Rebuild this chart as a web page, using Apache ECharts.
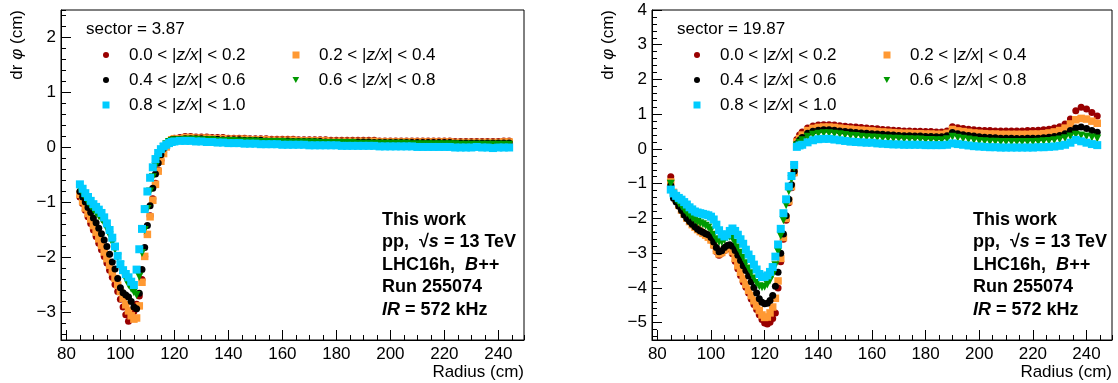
<!DOCTYPE html>
<html>
<head>
<meta charset="utf-8">
<script src="https://cdn.jsdelivr.net/npm/echarts@6/dist/echarts.min.js"></script>
<style>
  html, body { margin: 0; padding: 0; background: #fff; }
  #chart { width: 1118px; height: 383px; }
</style>
</head>
<body>
<div id="chart"></div>
<script>
const FONT = "'Liberation Sans', Arial, Helvetica, sans-serif";

// Radius bins (cm)
const radiusLeft = [85,86,87,88,89,90,91,92,93,94,95,96,97,98,99,100,101,102,103,104,105,106,107,108,109,110,111,112,113,114,115,116,117,118,119,120,
  122,124,126,128,130,132,134,136,138,140,142,144,146,148,150,152,154,156,158,160,162,164,166,168,170,172,174,176,178,180,182,184,186,188,190,192,194,196,198,200,202,204,206,208,210,212,214,216,218,220,222,224,226,228,230,232,234,236,238,240,242,244];
const radiusRight = [85,86,87,88,89,90,91,92,93,94,95,96,97,98,99,100,101,102,103,104,105,106,107,108,109,110,111,112,113,114,115,116,117,118,119,120,121,122,123,124,125,126,127,128,129,130,131,132,133,
  134,136,138,140,142,144,146,148,150,152,154,156,158,160,162,164,166,168,170,172,174,176,178,180,182,184,186,188,190,192,194,196,198,200,202,204,206,208,210,212,214,216,218,220,222,224,226,228,230,232,234,236,238,240,242,244];

// |z/x| slices
const sliceNames = ['0.0 < |z/x| < 0.2', '0.2 < |z/x| < 0.4', '0.4 < |z/x| < 0.6', '0.6 < |z/x| < 0.8', '0.8 < |z/x| < 1.0'];
const sectorLabels = ['sector = 3.87', 'sector = 19.87'];

// dr·phi (cm), sector 3.87
const left00 = [-0.90,-1.02,-1.14,-1.26,-1.38,-1.50,-1.62,-1.74,-1.86,-1.98,-2.10,-2.23,-2.36,-2.49,-2.62,-2.76,-2.90,-3.04,-3.16,-3.10,-2.98,-2.85,-2.70,-2.40,-1.98,-1.58,-1.24,-0.93,-0.65,-0.41,-0.23,-0.09,0.03,0.11,0.15,0.17,
  0.18,0.20,0.20,0.19,0.19,0.19,0.18,0.18,0.18,0.17,0.17,0.17,0.17,0.16,0.16,0.16,0.16,0.15,0.15,0.15,0.15,0.15,0.14,0.14,0.14,0.14,0.14,0.14,0.13,0.13,0.13,0.13,0.13,0.13,0.13,0.13,0.13,0.12,0.12,0.12,0.12,0.12,0.12,0.12,0.12,0.12,0.12,0.12,0.12,0.12,0.12,0.11,0.11,0.11,0.11,0.11,0.11,0.11,0.11,0.11,0.12,0.12];
const left02 = [-0.85,-0.98,-1.10,-1.20,-1.30,-1.42,-1.54,-1.66,-1.78,-1.90,-2.02,-2.14,-2.26,-2.38,-2.50,-2.62,-2.74,-2.86,-2.97,-3.06,-3.12,-3.10,-2.88,-2.45,-1.98,-1.58,-1.26,-0.96,-0.67,-0.43,-0.25,-0.11,0.01,0.09,0.14,0.16,
  0.16,0.18,0.18,0.17,0.17,0.17,0.16,0.16,0.16,0.15,0.15,0.15,0.15,0.14,0.14,0.14,0.14,0.13,0.13,0.13,0.13,0.13,0.12,0.12,0.12,0.12,0.12,0.12,0.11,0.11,0.11,0.11,0.11,0.11,0.11,0.11,0.11,0.10,0.10,0.10,0.10,0.10,0.10,0.10,0.10,0.10,0.10,0.10,0.10,0.10,0.10,0.09,0.09,0.09,0.09,0.09,0.09,0.09,0.09,0.09,0.10,0.10];
const left04 = [-0.80,-0.90,-0.99,-1.09,-1.18,-1.28,-1.37,-1.47,-1.57,-1.68,-1.80,-1.94,-2.08,-2.21,-2.38,-2.55,-2.64,-2.68,-2.72,-2.80,-2.90,-2.93,-2.65,-2.22,-1.82,-1.42,-1.06,-0.74,-0.48,-0.28,-0.13,-0.02,0.06,0.11,0.14,0.15,
  0.15,0.16,0.16,0.16,0.16,0.15,0.15,0.15,0.14,0.14,0.14,0.14,0.13,0.13,0.13,0.13,0.12,0.12,0.12,0.12,0.12,0.11,0.11,0.11,0.11,0.11,0.11,0.10,0.10,0.10,0.10,0.10,0.10,0.10,0.10,0.10,0.09,0.09,0.09,0.09,0.09,0.09,0.09,0.09,0.09,0.09,0.09,0.09,0.09,0.09,0.09,0.08,0.08,0.08,0.08,0.08,0.08,0.08,0.08,0.08,0.08,0.08];
const left06 = [-0.75,-0.84,-0.92,-1.00,-1.07,-1.13,-1.19,-1.25,-1.31,-1.38,-1.48,-1.60,-1.73,-1.86,-2.00,-2.14,-2.28,-2.40,-2.50,-2.57,-2.63,-2.68,-2.35,-1.92,-1.50,-1.12,-0.80,-0.54,-0.34,-0.18,-0.07,0.01,0.06,0.10,0.12,0.13,
  0.13,0.14,0.14,0.14,0.13,0.13,0.13,0.12,0.12,0.12,0.12,0.11,0.11,0.11,0.11,0.10,0.10,0.10,0.10,0.10,0.09,0.09,0.09,0.09,0.09,0.09,0.08,0.08,0.08,0.08,0.08,0.08,0.08,0.07,0.07,0.07,0.07,0.07,0.07,0.07,0.07,0.07,0.07,0.06,0.06,0.06,0.06,0.06,0.06,0.06,0.06,0.06,0.05,0.05,0.05,0.05,0.05,0.05,0.05,0.05,0.05,0.05];
const left08 = [-0.67,-0.75,-0.83,-0.90,-0.97,-1.03,-1.08,-1.13,-1.19,-1.27,-1.38,-1.50,-1.64,-1.80,-1.97,-2.12,-2.23,-2.30,-2.36,-2.44,-2.50,-2.22,-1.85,-1.48,-1.12,-0.80,-0.55,-0.36,-0.21,-0.10,-0.03,0.02,0.05,0.08,0.10,0.11,
  0.12,0.12,0.12,0.11,0.11,0.10,0.10,0.09,0.09,0.08,0.08,0.08,0.07,0.07,0.07,0.06,0.06,0.06,0.06,0.05,0.05,0.05,0.05,0.05,0.04,0.04,0.04,0.04,0.04,0.04,0.03,0.03,0.03,0.03,0.03,0.03,0.03,0.02,0.02,0.02,0.02,0.02,0.02,0.02,0.01,0.01,0.01,0.01,0.01,0.01,0.01,0.00,0.00,0.00,0.00,0.01,0.00,0.00,-0.01,0.00,0.00,0.00];

// dr·phi (cm), sector 19.87
const right00 = [-0.80,-1.28,-1.45,-1.60,-1.73,-1.85,-1.96,-2.06,-2.15,-2.22,-2.29,-2.35,-2.41,-2.46,-2.52,-2.62,-2.78,-2.95,-3.06,-3.00,-2.92,-2.87,-2.88,-3.02,-3.23,-3.45,-3.64,-3.83,-3.98,-4.15,-4.32,-4.48,-4.62,-4.77,-4.91,-5.01,-5.04,-4.99,-4.88,-4.72,-4.00,-3.25,-2.60,-2.05,-1.55,-1.12,-0.70,0.27,0.40,
  0.49,0.60,0.66,0.69,0.70,0.70,0.69,0.67,0.65,0.64,0.63,0.62,0.60,0.59,0.58,0.56,0.55,0.54,0.53,0.52,0.52,0.51,0.51,0.50,0.50,0.49,0.49,0.52,0.64,0.61,0.59,0.57,0.55,0.54,0.53,0.53,0.52,0.52,0.52,0.52,0.52,0.52,0.53,0.53,0.54,0.55,0.57,0.60,0.64,0.72,0.86,1.10,1.20,1.15,1.05,0.95];
const right02 = [-0.95,-1.25,-1.45,-1.62,-1.76,-1.88,-1.99,-2.09,-2.18,-2.25,-2.32,-2.38,-2.43,-2.48,-2.54,-2.62,-2.76,-2.92,-3.02,-2.98,-2.90,-2.84,-2.84,-2.95,-3.15,-3.36,-3.55,-3.74,-3.90,-4.07,-4.22,-4.37,-4.52,-4.65,-4.78,-4.85,-4.84,-4.72,-4.55,-4.30,-3.80,-3.15,-2.55,-2.00,-1.50,-1.08,-0.68,0.20,0.30,
  0.40,0.53,0.59,0.62,0.63,0.63,0.62,0.60,0.58,0.57,0.55,0.54,0.53,0.52,0.50,0.49,0.48,0.47,0.46,0.45,0.45,0.44,0.44,0.43,0.43,0.42,0.42,0.45,0.56,0.52,0.50,0.48,0.46,0.45,0.44,0.43,0.43,0.42,0.42,0.42,0.42,0.42,0.42,0.43,0.43,0.44,0.46,0.49,0.53,0.60,0.72,0.84,0.88,0.86,0.80,0.74];
const right04 = [-1.05,-1.42,-1.53,-1.65,-1.77,-1.90,-2.00,-2.09,-2.17,-2.24,-2.31,-2.36,-2.40,-2.44,-2.47,-2.55,-2.68,-2.84,-2.96,-2.93,-2.84,-2.78,-2.76,-2.80,-2.92,-3.06,-3.21,-3.36,-3.50,-3.66,-3.82,-3.99,-4.15,-4.31,-4.41,-4.46,-4.44,-4.36,-4.22,-3.95,-3.55,-3.00,-2.45,-1.92,-1.45,-1.03,-0.64,0.15,0.25,
  0.33,0.45,0.51,0.54,0.55,0.55,0.54,0.52,0.50,0.49,0.47,0.46,0.45,0.44,0.43,0.42,0.41,0.40,0.39,0.38,0.38,0.37,0.37,0.36,0.36,0.35,0.35,0.38,0.47,0.44,0.41,0.39,0.37,0.35,0.34,0.33,0.32,0.31,0.31,0.31,0.30,0.30,0.31,0.31,0.31,0.32,0.34,0.36,0.39,0.44,0.53,0.60,0.63,0.59,0.53,0.48];
const right06 = [-1.00,-1.35,-1.47,-1.57,-1.66,-1.76,-1.85,-1.92,-1.99,-2.05,-2.10,-2.14,-2.17,-2.21,-2.26,-2.34,-2.47,-2.60,-2.68,-2.68,-2.62,-2.55,-2.53,-2.58,-2.70,-2.84,-2.99,-3.14,-3.29,-3.44,-3.58,-3.73,-3.86,-3.95,-3.98,-3.97,-3.90,-3.79,-3.62,-3.35,-2.95,-2.50,-2.05,-1.62,-1.22,-0.87,-0.54,0.10,0.18,
  0.25,0.35,0.41,0.44,0.45,0.45,0.44,0.42,0.40,0.38,0.37,0.35,0.34,0.33,0.32,0.31,0.30,0.29,0.29,0.28,0.28,0.27,0.27,0.26,0.26,0.25,0.25,0.28,0.35,0.32,0.29,0.27,0.25,0.23,0.22,0.21,0.21,0.20,0.20,0.20,0.20,0.20,0.20,0.20,0.21,0.22,0.23,0.25,0.27,0.31,0.36,0.41,0.39,0.36,0.33,0.30];
const right08 = [-1.17,-1.28,-1.35,-1.41,-1.46,-1.53,-1.60,-1.68,-1.74,-1.80,-1.83,-1.85,-1.87,-1.89,-1.91,-1.95,-2.03,-2.18,-2.34,-2.46,-2.52,-2.46,-2.36,-2.29,-2.36,-2.47,-2.60,-2.73,-2.90,-3.04,-3.17,-3.33,-3.47,-3.60,-3.69,-3.68,-3.64,-3.54,-3.40,-3.10,-2.75,-2.30,-1.85,-1.45,-1.08,-0.78,-0.46,0.06,0.10,
  0.12,0.19,0.25,0.28,0.29,0.29,0.27,0.25,0.23,0.21,0.20,0.19,0.18,0.18,0.16,0.15,0.14,0.13,0.13,0.12,0.12,0.12,0.12,0.11,0.11,0.11,0.11,0.12,0.16,0.14,0.12,0.10,0.08,0.07,0.06,0.05,0.05,0.04,0.04,0.04,0.04,0.04,0.04,0.04,0.05,0.05,0.06,0.07,0.09,0.12,0.18,0.26,0.22,0.18,0.14,0.11];

// Axis ranges
const xRange = [78, 249.5];
const yRanges = [[-3.5, 2.5], [-5.5, 4]];

// Text block drawn in each panel
const infoLines = ['This work', 'pp,  \u221A{it|s} = 13 TeV', 'LHC16h,  {it|B++}', 'Run 255074', '{it|IR} = 572 kHz'];

const markerStyles = [
  { color: '#990000', symbol: 'circle', size: 7, icon: 'circle', iw: 6, ih: 6 },
  { color: '#ff9933', symbol: 'rect', size: 7.5, icon: 'rect', iw: 7, ih: 7 },
  { color: '#000000', symbol: 'circle', size: 7, icon: 'circle', iw: 6, ih: 6 },
  { color: '#009900', symbol: 'triangle', size: 8, rotate: 180, icon: 'path://M0,0L10,0L5,9Z', iw: 7, ih: 6 },
  { color: '#00ccff', symbol: 'rect', size: 8, icon: 'rect', iw: 7, ih: 7 }
];

const panels = [
  { left: 61, width: 463, radius: radiusLeft, values: [left00, left02, left04, left06, left08] },
  { left: 652, width: 460, radius: radiusRight, values: [right00, right02, right04, right06, right08] }
];
const gridTop = 10, gridHeight = 330;

const minusFmt = v => (v < 0 ? '\u2212' + Math.abs(v) : String(v));
const labelStyle = { color: '#000', fontSize: 17, fontFamily: FONT };

const grid = [], xAxis = [], yAxis = [], series = [], legend = [], graphic = [];

panels.forEach((p, pi) => {
  grid.push({ left: p.left, top: gridTop, width: p.width, height: gridHeight, show: true,
    borderColor: '#000', borderWidth: 1, backgroundColor: 'transparent' });

  // major x axis
  xAxis.push({ gridIndex: pi, type: 'value', position: 'bottom', min: xRange[0], max: xRange[1],
    minInterval: 20, maxInterval: 20,
    axisLine: { show: true, onZero: false, lineStyle: { color: '#000', width: 1 } },
    axisTick: { show: true, inside: true, length: 10, lineStyle: { color: '#000' } },
    axisLabel: Object.assign({ margin: 6, showMinLabel: false, showMaxLabel: false }, labelStyle),
    splitLine: { show: false } });
  // minor x ticks
  xAxis.push({ gridIndex: pi, type: 'value', position: 'bottom', min: xRange[0], max: xRange[1],
    minInterval: 5, maxInterval: 5,
    axisLine: { show: false, onZero: false }, axisLabel: { show: false }, splitLine: { show: false },
    axisTick: { show: true, inside: true, length: 5, lineStyle: { color: '#000' } } });

  const yr = yRanges[pi];
  yAxis.push({ gridIndex: pi, type: 'value', position: 'left', min: yr[0], max: yr[1],
    minInterval: 1, maxInterval: 1,
    axisLine: { show: true, onZero: false, lineStyle: { color: '#000', width: 1 } },
    axisTick: { show: true, inside: true, length: 10, lineStyle: { color: '#000' } },
    axisLabel: Object.assign({ margin: 5, formatter: minusFmt, showMinLabel: false,
      showMaxLabel: Number.isInteger(yr[1]) }, labelStyle),
    splitLine: { show: false } });
  yAxis.push({ gridIndex: pi, type: 'value', position: 'left', min: yr[0], max: yr[1],
    minInterval: 0.2, maxInterval: 0.2,
    axisLine: { show: false, onZero: false }, axisLabel: { show: false }, splitLine: { show: false },
    axisTick: { show: true, inside: true, length: 5, lineStyle: { color: '#000' } } });

  p.values.forEach((vals, si) => {
    const st = markerStyles[si];
    series.push({
      type: 'scatter', name: sliceNames[si],
      xAxisIndex: pi * 2, yAxisIndex: pi * 2,
      data: p.radius.map((r, i) => [r, vals[i]]),
      symbol: st.symbol, symbolSize: st.size, symbolRotate: st.rotate || 0,
      itemStyle: { color: st.color, opacity: 1 },
      silent: true, z: 2 + si
    });
  });

  // legend entries: two columns, three rows
  const slots = [[45, 55], [235, 55], [45, 80], [235, 80], [45, 105]];
  slots.forEach((s, si) => {
    const st = markerStyles[si];
    legend.push({
      left: p.left + s[0] - st.iw / 2, top: s[1] - 10, padding: 0,
      selectedMode: false, orient: 'horizontal',
      itemWidth: st.iw, itemHeight: st.ih,
      data: [{ name: sliceNames[si], icon: st.icon }],
      formatter: n => n.replace('z/x', '{i|z/x}'),
      textStyle: { color: '#000', fontSize: 17, fontFamily: FONT, lineHeight: 20,
        padding: [0, 0, 0, 18 - st.iw / 2],
        rich: { i: { fontStyle: 'italic', fontSize: 17, fontFamily: FONT, lineHeight: 20, color: '#000' } } }
    });
  });

  // sector label
  graphic.push({ type: 'text', x: p.left + 25, y: 29, silent: true,
    style: { text: sectorLabels[pi], fill: '#000', fontSize: 17, fontFamily: FONT, verticalAlign: 'middle', align: 'left' } });

  // run information
  infoLines.forEach((t, li) => {
    graphic.push({ type: 'text', x: p.left + 321, y: 220 + li * 22.5, silent: true,
      style: { text: t, fill: '#000', fontSize: 18, fontWeight: 'bold', fontFamily: FONT,
        verticalAlign: 'middle', align: 'left',
        rich: { it: { fontStyle: 'italic', fontWeight: 'bold', fontSize: 18, fontFamily: FONT, fill: '#000' } } } });
  });

  // axis titles
  graphic.push({ type: 'text', x: p.left + p.width, y: 372, silent: true,
    style: { text: 'Radius (cm)', fill: '#000', fontSize: 17, fontFamily: FONT, align: 'right', verticalAlign: 'middle' } });
  graphic.push({ type: 'text', x: p.left - 44, y: gridTop, rotation: Math.PI / 2, silent: true,
    style: { text: 'dr {p|\u03C6} (cm)', fill: '#000', fontSize: 17, fontFamily: FONT, align: 'right', verticalAlign: 'middle',
      rich: { p: { fontStyle: 'italic', fontSize: 17, fontFamily: FONT, fill: '#000' } } } });
});

const chart = echarts.init(document.getElementById('chart'), null, { renderer: 'canvas' });
chart.setOption({
  animation: false,
  backgroundColor: '#fff',
  grid, xAxis, yAxis, series, legend, graphic
});
</script>
</body>
</html>
